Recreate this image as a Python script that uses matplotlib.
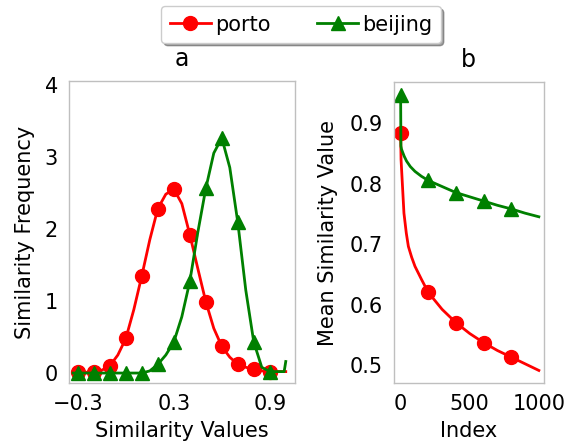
import matplotlib
matplotlib.use("Agg")
import matplotlib.pyplot as plt

# similarity distribution (panel a)
sim_x = [-0.33, -0.3, -0.25, -0.2, -0.15, -0.1, -0.05, 0.0, 0.05, 0.1,
         0.15, 0.2, 0.25, 0.3, 0.35, 0.4, 0.45, 0.5, 0.55, 0.6, 0.65, 0.7,
         0.75, 0.8, 0.85, 0.9, 0.95, 0.99, 1.0]
porto_freq = [0.02, 0.02, 0.01, 0.02, 0.04, 0.10, 0.25, 0.48, 0.88, 1.35,
              1.85, 2.28, 2.48, 2.55, 2.35, 1.92, 1.45, 0.99, 0.62, 0.37,
              0.22, 0.12, 0.08, 0.05, 0.03, 0.02, 0.02, 0.02, 0.02]
beijing_freq = [0.0, 0.0, 0.0, 0.0, 0.0, 0.0, 0.0, 0.0, 0.0, 0.0,
                0.03, 0.12, 0.25, 0.43, 0.78, 1.27, 1.95, 2.56, 3.05, 3.26,
                2.85, 2.09, 1.15, 0.43, 0.08, 0.02, 0.02, 0.02, 0.16]
sim_marks = list(range(1, 26, 2))

# mean similarity by index (panel b)
porto_idx = [0, 3, 11, 24, 41, 56, 80, 104, 152, 200, 300, 400, 500, 600,
             700, 800, 900, 1000]
porto_mean = [0.883, 0.84, 0.806, 0.751, 0.718, 0.696, 0.678, 0.663, 0.641,
              0.620, 0.592, 0.570, 0.552, 0.537, 0.524, 0.513, 0.502, 0.491]
beijing_idx = [0, 2, 6, 14, 26, 43, 70, 104, 150, 200, 300, 400, 500, 600,
               700, 800, 900, 1000]
beijing_mean = [0.947, 0.862, 0.857, 0.852, 0.845, 0.837, 0.828, 0.820,
                0.812, 0.805, 0.795, 0.785, 0.778, 0.771, 0.764, 0.758,
                0.751, 0.745]
index_marks = [0, 9, 11, 13, 15]

fig = plt.figure(figsize=(5.79, 4.45), dpi=100)
ax1 = fig.add_axes([0.119, 0.139, 0.390, 0.679])
ax2 = fig.add_axes([0.680, 0.139, 0.259, 0.677])

style = dict(lw=2, markersize=10)
ax1.plot(sim_x, porto_freq, color="red", marker="o", markevery=sim_marks,
         label="porto", **style)
ax1.plot(sim_x, beijing_freq, color="green", marker="^", markevery=sim_marks,
         label="beijing", **style)
ax1.set_xlim(-0.356, 1.056)
ax1.set_ylim(-0.14, 4.05)
ax1.set_xticks([-0.3, 0.3, 0.9])
ax1.set_yticks([0, 1, 2, 3, 4])
ax1.set_xlabel("Similarity Values", fontsize=15, labelpad=5)
ax1.set_ylabel("Similarity Frequency", fontsize=15, labelpad=7)
ax1.set_title("a", fontsize=17, pad=11)

ax2.plot(porto_idx, porto_mean, color="red", marker="o",
         markevery=index_marks, **style)
ax2.plot(beijing_idx, beijing_mean, color="green", marker="^",
         markevery=index_marks, **style)
ax2.set_xlim(-50, 1035)
ax2.set_ylim(0.47, 0.968)
ax2.set_xticks([0, 500, 1000])
ax2.set_yticks([0.5, 0.6, 0.7, 0.8, 0.9])
ax2.set_xlabel("Index", fontsize=15, labelpad=5)
ax2.set_ylabel("Mean Similarity Value", fontsize=15, labelpad=8)
ax2.set_title("b", fontsize=17, pad=11)

for ax in (ax1, ax2):
    ax.tick_params(length=0, pad=8, labelsize=15)
    for sp in ax.spines.values():
        sp.set_color("#bfbfbf")
        sp.set_linewidth(1)

fig.legend(*ax1.get_legend_handles_labels(), loc="upper center",
           bbox_to_anchor=(0.52, 1.0), ncol=2, fontsize=15, shadow=True,
           handlelength=2, columnspacing=2.2, borderaxespad=0.3,
           handletextpad=0.2, fancybox=True)

fig.savefig("out.png", dpi=100)
